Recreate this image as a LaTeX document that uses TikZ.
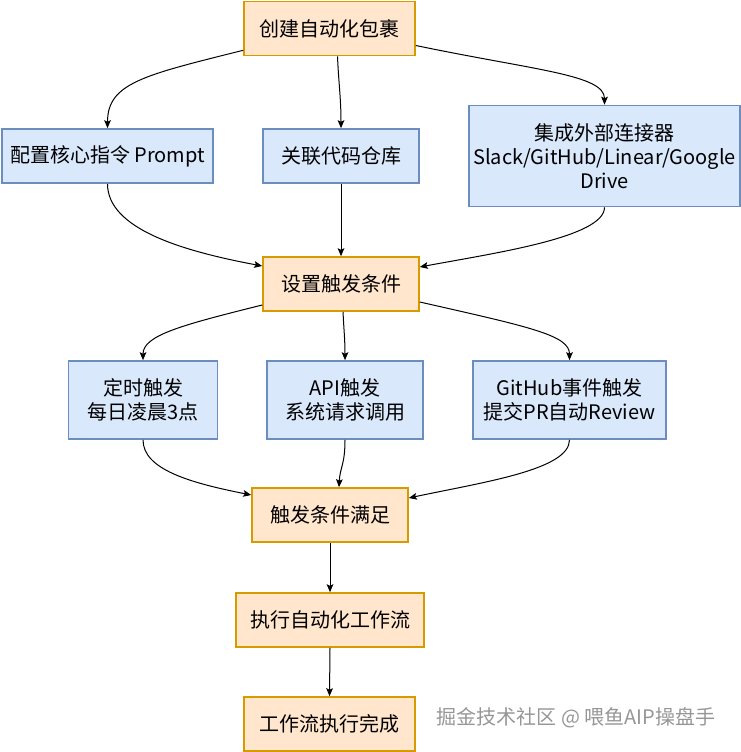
\documentclass[tikz,border=0pt]{standalone}
\usepackage{fontspec}
\setmainfont{Noto Sans CJK SC}
\usetikzlibrary{arrows.meta, calc}
\usepackage{xcolor}
\definecolor{oline}{RGB}{215,155,0}
\definecolor{ofill}{RGB}{255,230,204}
\definecolor{bline}{RGB}{108,142,191}
\definecolor{bfill}{RGB}{218,232,252}
\definecolor{wmgray}{RGB}{150,150,150}

\begin{document}
\begin{tikzpicture}[x=0.75pt, y=-0.75pt,
  stepbox/.style={draw=oline, fill=ofill, line width=1.2pt, inner sep=0pt,
                  font=\fontsize{15}{18}\selectfont, align=center, minimum height=40.5pt},
  optbox/.style={draw=bline, fill=bfill, line width=1.2pt, inner sep=0pt,
                 font=\fontsize{15}{18}\selectfont, align=center, minimum height=40.5pt},
  arr/.style={-{Stealth[length=6pt, width=5pt, inset=1.2pt]}, black, line width=0.75pt}
]
\useasboundingbox (0,0) rectangle (741,752);
\node[stepbox, minimum width=128.25pt] (wrap) at (329.5, 28.5) {创建自动化包裹};
\node[optbox, minimum width=158.25pt] (prompt) at (107.5, 156) {配置核心指令 Prompt};
\node[optbox, minimum width=117pt] (repo) at (341, 156) {关联代码仓库};
\node[optbox, minimum width=203.25pt, minimum height=75.75pt] (conn) at (604.5, 156)
  {集成外部连接器\\Slack/GitHub/Linear/Google\\Drive};
\node[stepbox, minimum width=117pt] (cond) at (341, 284) {设置触发条件};
\node[optbox, minimum width=111.75pt, minimum height=58.5pt] (timer) at (143, 400) {定时触发\\每日凌晨3点};
\node[optbox, minimum width=117pt, minimum height=58.5pt] (api) at (345, 400) {API触发\\系统请求调用};
\node[optbox, minimum width=144.75pt, minimum height=58.5pt] (gh) at (569.5, 400) {GitHub事件触发\\提交PR自动Review};
\node[stepbox, minimum width=117pt] (met) at (330, 515) {触发条件满足};
\node[stepbox, minimum width=141pt] (exec) at (330, 620) {执行自动化工作流};
\node[stepbox, minimum width=128.25pt] (done) at (329.5, 724) {工作流执行完成};
\node[text=wmgray, font=\fontsize{15}{18}\selectfont] (wm) at (576, 718) {掘金技术社区 @ 喂鱼AIP操盘手};
% fan out
\draw[arr] ($(wrap.south west)+(0,-6)$) .. controls +(-100,25) and +(0,-45) .. (prompt.north);
\draw[arr] ($(wrap.south)+(8,0)$) .. controls +(1,25) and +(0,-30) .. (repo.north);
\draw[arr] ($(wrap.east)+(0,17)$) .. controls +(120,25) and +(0,-30) .. (conn.north);
\draw[arr] (prompt.south) .. controls +(0,45) and +(-80,-15) .. ($(cond.west)+(0,-18)$);
\draw[arr] (repo.south) -- (cond.north);
\draw[arr] (conn.south) .. controls +(0,30) and +(75,-14) .. ($(cond.east)+(0,-17)$);
\draw[arr] ($(cond.west)+(0,21)$) .. controls +(-80,20) and +(0,-25) .. (timer.north);
\draw[arr] ($(cond.south)+(2,0)$) .. controls +(1,20) and +(0,-20) .. (api.north);
\draw[arr] ($(cond.east)+(0,18)$) .. controls +(110,25) and +(0,-25) .. (gh.north);
% fan in
\draw[arr] (timer.south) .. controls +(0,30) and +(-60,-12) .. ($(met.west)+(0,-20)$);
\draw[arr] (api.south) .. controls +(0,25) and +(1,-20) .. ($(met.north)+(9,0)$);
\draw[arr] (gh.south) .. controls +(0,30) and +(75,-16) .. ($(met.east)+(0,-17)$);
\draw[arr] (met.south) -- (exec.north);
\draw[arr] (exec.south) -- (done.north);
\end{tikzpicture}
\end{document}
